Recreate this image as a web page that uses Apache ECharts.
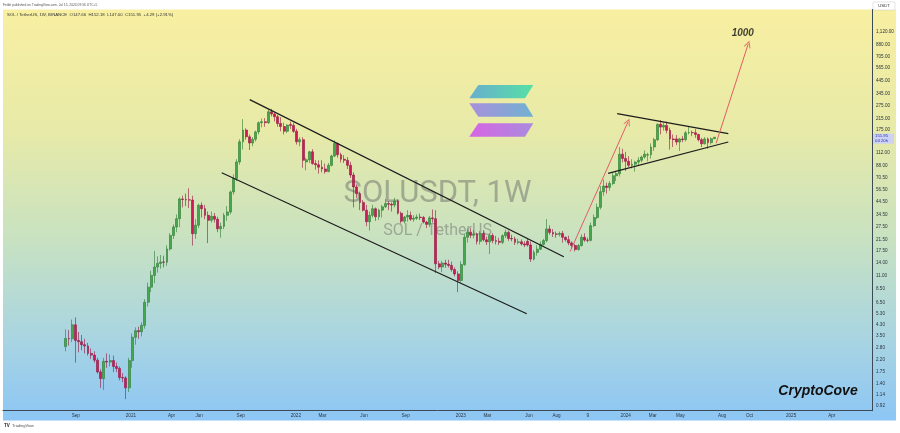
<!DOCTYPE html>
<html><head><meta charset="utf-8">
<script src="https://cdn.jsdelivr.net/npm/echarts@6/dist/echarts.min.js"></script>
<style>html,body{margin:0;padding:0;background:#fff}#c{width:900px;height:433px}</style>
</head><body><div id="c"></div>
<script>
// ---- data: weekly SOL/USDT candles (Binance, 1W), first week starts Monday 2020-08-10
const START_WEEK = '2020-08-10';
const opens = [
 2.85,3.32,3.30,4.30,3.20,3.12,2.95,2.88,2.50,2.42,2.20,1.76,1.55,2.15,2.12,2.18,1.95,1.88,1.58,1.57,1.30,
 2.18,3.40,3.85,3.78,4.25,6.60,8.80,11.0,12.9,13.8,14.2,14.1,18.2,23.5,27.6,32.3,47.0,46.5,46.2,46.0,24.3,28.5,41.6,39.1,34.4,31.3,33.8,32.0,26.7,27.9,34.4,36.7,53.7,69.2,95.0,139,174,153,136,146,168,200,204,200,246,236,224,197,186,170,193,190,
 170,139,145,95,99,115,92,90,86,83,79,89,106,135,109,100,98,89,74,59,52,44,38,30.5,34.4,39,33.5,38,40.5,43,42.5,41.8,45,35.8,30.8,33.3,34.4,32,32.5,33.3,33,30.3,29,32.8,32.3,13.7,12.9,13.9,13.6,13.3,12.3,11.3,
 10.0,13.5,22.7,25.0,23.6,24.2,21.0,24.4,21.6,20.8,23.5,21.3,21.0,20.6,23.4,24.9,22.2,22.0,20.6,20.8,20.0,21.0,19.6,15.0,17.0,18.1,19.8,21.3,26.6,24.9,24.2,24.0,24.4,22.7,21.7,20.4,19.4,18.0,19.4,22.7,21.5,21.4,28.3,33.0,40.1,54.0,60.0,58.5,63.0,73.0,76.0,110,
 101.5,96,89,91,94.6,98,104,108,109,126,145,194,184,190,173,147,147,138.5,147,145,165,166,165,160,145,134,147,137,147.66
];
const closes = [
 3.32,3.30,4.30,3.20,3.12,2.95,2.88,2.50,2.42,2.20,1.76,1.55,2.15,2.12,2.18,1.95,1.88,1.58,1.57,1.30,2.18,
 3.40,3.85,3.78,4.25,6.60,8.80,11.0,12.9,13.8,14.2,14.1,18.2,23.5,27.6,32.3,47.0,46.5,46.2,46.0,24.3,28.5,41.6,39.1,34.4,31.3,33.8,32.0,26.7,27.9,34.4,36.7,53.7,69.2,95.0,139,174,153,136,146,168,200,204,200,246,236,224,197,186,170,191,190,170,
 139,145,98,99,115,92,90,86,83,79,89,106,135,109,100,98,89,74,59,52,44,38,30.5,34.4,39,33.5,38,40.5,43,42.5,41.8,45,35.8,30.8,33.3,34.4,32,32.5,33.3,33,30.3,29,32.8,32.3,13.7,12.9,13.9,13.6,13.3,12.3,11.3,10.0,
 13.5,22.7,25.0,23.6,24.2,21.0,24.4,21.6,20.8,23.5,21.3,21.0,20.6,23.4,24.9,22.2,22.0,20.6,20.8,20.0,19.6,19.6,15.0,17.0,18.1,19.8,21.3,26.6,24.9,24.2,24.0,24.4,22.7,21.7,20.4,19.4,18.0,19.4,22.7,21.5,21.4,28.3,33.0,40.1,54.0,60.0,58.5,63.0,73.0,76.0,110,101.5,
 96,89,91,94.6,98,104,110,109,126,145,194,184,190,173,147,145,138.5,147,145,165,166,165,160,145,134,147,137,147.66,151.95
];
const lows = [
 2.60,2.90,3.10,2.10,2.55,2.65,2.50,2.40,2.25,2.10,1.70,1.30,1.25,1.90,1.95,1.75,1.75,1.50,1.45,1.05,1.20,
 1.90,2.95,3.30,3.45,4.00,6.10,8.00,9.50,11.6,12.5,12.8,13.2,17.6,22.0,25.0,27.5,40.0,41.0,39.5,19.4,22.0,27.0,33.0,32.0,20.3,30.0,30.0,25.0,22.5,26.5,31.0,35.0,51.0,66.0,90,120,145,119,128,140,160,183,185,195,225,205,185,170,160,164,178,165,
 132,128,85,81,93,90,82,76,78,76,78,87,104,103,94,93,83,70,40,48,38,37,28,25.8,33,31,31.5,33,39.5,38,37,40,35,29.5,29.5,30.5,31,30.5,31.5,31.5,29.5,27,27.5,30,11.5,12.4,11.7,12.7,12.8,11.8,10.8,8.0,
 9.6,13.2,20.5,22.3,22.2,19.8,19.8,21.0,19.6,16.5,20.3,19.8,19.6,19.9,22.3,21.2,21.0,19.6,19.8,19.4,18.8,19.0,14.2,14.6,16.0,17.8,19.4,20.6,23.8,22.8,22.5,23.0,20.5,20.9,19.5,18.5,17.3,17.6,19.0,20.8,20.6,21.0,27.5,32.0,38.5,50.0,52.0,55.0,61.0,66.0,72.0,94.0,
 80,86,84,79,90,94,101,96,101,117,141,160,172,163,120,126,131,117,138,140,160,155,150,140,126,132,122,132,147.00
];
const highs = [
 3.95,3.90,4.75,4.95,3.75,3.55,3.30,3.05,2.75,2.60,2.30,1.85,2.30,2.50,2.45,2.40,2.10,1.95,1.72,1.62,2.30,
 3.65,4.10,4.15,4.50,7.00,9.60,12.0,17.5,15.8,16.2,16.0,19.5,24.5,29.0,35.0,48.5,50.0,52.0,57.5,50.0,32.0,43.0,44.0,42.0,37.0,37.0,36.0,33.5,30.0,36.0,41.0,55.0,75.0,100,146,214,180,160,152,172,205,216,218,256,260,242,232,222,200,194,204,200,
 178,152,152,103,117,121,98,98,98,92,93,109,143,137,113,108,104,95,78,62,54,46,42,37,42,40,39,42,47,45,44,48,46.5,37,34,38,37,34.5,35,35.5,34,31,34,38.5,38,14.5,14.5,14.8,14.8,14.3,12.8,11.9,
 14.4,24.0,26.8,27.0,26.0,24.8,25.5,26.0,23.0,24.2,24.5,23.3,22.5,24.0,26.2,25.8,23.8,22.9,22.0,21.8,21.0,22.4,21.0,17.8,19.5,21.0,22.0,32.1,28.5,26.5,25.3,25.3,25.6,23.0,23.4,21.0,20.0,20.0,24.0,24.5,22.5,30.0,35.0,43.0,60.0,68.0,64.0,66.0,78.0,80.0,126,122,
 115,106,100,97,104,107,118,113,135,150,197,210,200,204,182,160,158,150,155,171,188,172,177,162,150,152,151,151,152.18
];
// right price axis tick labels (USDT, log scale)
const yTickValues = [0.92,1.14,1.40,1.75,2.20,2.80,3.50,4.30,5.30,6.50,8.50,11.00,14.00,17.50,21.50,27.50,34.50,44.50,56.50,70.50,88.00,112.00,175.00,215.00,275.00,345.00,445.00,565.00,705.00,880.00,1120.00];
// time axis tick labels
const xTickDates = ['2020-09-01','2021-01-01','2021-04-01','2021-06-01','2021-09-01','2022-01-01','2022-03-01','2022-06-01','2022-09-01','2023-01-01','2023-03-01','2023-06-01','2023-08-01','2023-10-09','2024-01-01','2024-03-01','2024-05-01','2024-08-01','2024-10-01','2025-01-01','2025-04-01'];
const xTickLabels = ['Sep','2021','Apr','Jun','Sep','2022','Mar','Jun','Sep','2023','Mar','Jun','Aug','9','2024','Mar','May','Aug','Oct','2025','Apr'];
// drawn annotations (date, price)
const channelUpper = [['2021-09-21',310],['2023-08-17',15.7]];
const channelLower = [['2021-07-21',77.4],['2023-05-27',5.31]];
const triangleUpper = [['2023-12-13',238],['2024-08-15',162.6]];
const triangleLower = [['2023-11-23',76.4],['2024-08-15',138.5]];
const arrowUp1 = [['2023-08-31',17.3],['2024-01-06',203]];
const arrowUp2 = [['2024-07-19',135.2],['2024-09-28',891]];
const targetLabel = ['2024-09-16',1099,'1000'];

// ---- build
const DAY = 86400000;
const t0 = Date.parse(START_WEEK);
const candles = opens.map((o,i)=>[t0 + i*7*DAY, o, closes[i], lows[i], highs[i]]);
const seg = p => p.map(q=>[Date.parse(q[0]), q[1]]);
const lastClose = closes[closes.length-1];
const xTickTs = xTickDates.map(d=>Date.parse(d));
const xLabelMap = {}; xTickTs.forEach((t,i)=>xLabelMap[t]=xTickLabels[i]);
const fmtPrice = v => Number(v).toLocaleString('en-US',{minimumFractionDigits:2,maximumFractionDigits:2});

const chart = echarts.init(document.getElementById('c'), null, {renderer:'canvas'});
const FONT = 'Liberation Sans, Arial, sans-serif';
const bgGrad = new echarts.graphic.LinearGradient(0,0,0,1,[
  {offset:0,color:'#f8efa1'},{offset:0.3,color:'#e7eaa8'},{offset:0.55,color:'#c9e2c0'},{offset:0.8,color:'#a9d5e2'},{offset:1,color:'#8dc6f5'}]);
function bar(pts, c1, c2){
  return {type:'polygon', silent:true, z:-5, shape:{points:pts},
    style:{opacity:0.9, fill:new echarts.graphic.LinearGradient(0,0,1,0,[{offset:0,color:c1},{offset:1,color:c2}])}};
}
const baseGraphics = [
    {type:'rect', silent:true, z:-10, shape:{x:3,y:9.5,width:893,height:411}, style:{fill:bgGrad}},
    {type:'text', silent:true, style:{x:3,y:5,text:'Fetbit published on TradingView.com, Jul 15, 2024 09:56 UTC+5',fontSize:3.3,fill:'#555',fontFamily:FONT,verticalAlign:'middle'}},
    {type:'text', silent:true, style:{x:7,y:15,text:'SOL / TetherUS, 1W, BINANCE  O147.66  H152.18  L147.00  C151.95  +4.29 (+2.91%)',fontSize:4.3,fill:'#333',fontFamily:FONT,verticalAlign:'middle'}},
    {type:'text', silent:true, z:-4, style:{x:437.5,y:194,text:'SOLUSDT, 1W',fontSize:31,fill:'rgba(105,110,105,0.5)',fontFamily:'Roboto, sans-serif',align:'center',verticalAlign:'middle'}},
    {type:'text', silent:true, z:-4, style:{x:437.5,y:231,text:'SOL / TetherUS',fontSize:16,fill:'rgba(105,110,105,0.5)',fontFamily:'Roboto, sans-serif',align:'center',verticalAlign:'middle'}},
    bar([[478.3,85],[533.3,85],[525,98.3],[469.3,98.3]],'#5aa8d2','#45dea6'),
    bar([[469.3,103.3],[525,103.3],[533.3,116.7],[478.3,116.7]],'#a285e2','#62acd6'),
    bar([[478.3,123.3],[533.3,123.3],[525,136.7],[469.3,136.7]],'#d555ea','#a282e4'),
    {type:'text', silent:true, style:{x:818,y:391,text:'CryptoCove',fontSize:14,fontWeight:'bold',fontStyle:'italic',fill:'#111',fontFamily:FONT,align:'center',verticalAlign:'middle'}},
    {type:'rect', silent:true, shape:{x:873,y:2,width:22,height:8}, style:{fill:'#fff',stroke:'#c8c8c8',lineWidth:0.5}},
    {type:'text', silent:true, style:{x:884,y:6,text:'USDT',fontSize:4.3,fill:'#333',fontFamily:FONT,align:'center',verticalAlign:'middle'}},
    {type:'text', silent:true, style:{x:4,y:426,text:'TV',fontSize:4.5,fontWeight:'bold',fill:'#131722',fontFamily:FONT,verticalAlign:'middle'}},
    {type:'text', silent:true, style:{x:12,y:426,text:'TradingView',fontSize:4,fill:'#555',fontFamily:FONT,verticalAlign:'middle'}}
];
const baseOption = {
  animation:false,
  backgroundColor:'#ffffff',
  grid:{left:3,right:28,top:9.5,bottom:22.3},
  xAxis:{type:'value', min:Date.parse('2020-03-24'), max:Date.parse('2025-06-29'), scale:true,
    axisLine:{show:true,lineStyle:{color:'#3c4a58',width:1}}, axisTick:{show:false}, splitLine:{show:false},
    axisLabel:{customValues:xTickTs, formatter:v=>xLabelMap[v]||'', fontSize:4.6, color:'#2a3440', margin:2.5, fontFamily:FONT}},
  yAxis:{type:'log', logBase:10, position:'right', min:0.842, max:1717,
    axisLine:{show:true,lineStyle:{color:'#3c4a58',width:1}}, axisTick:{show:false}, splitLine:{show:false},
    axisLabel:{customValues:yTickValues, formatter:v=>fmtPrice(v), fontSize:4.6, color:'#2a3440', margin:4, fontFamily:FONT}},
  graphic:baseGraphics,
  series:[
    {type:'candlestick', data:candles, barWidth:2.4, silent:true,
      itemStyle:{color:'#45a84f',color0:'#d0185a',borderColor:'#2b7a33',borderColor0:'#96133f',borderWidth:0.6}},
    {type:'lines', coordinateSystem:'cartesian2d', silent:true, z:5,
      data:[channelUpper,channelLower,triangleUpper,triangleLower].map(p=>({coords:seg(p)})),
      lineStyle:{color:'#1c1c1c',width:1.2,opacity:1}},
    {type:'lines', coordinateSystem:'cartesian2d', silent:true, z:5,
      symbol:['none','path://M0,10 L5,0 L10,10 L8.6,10 L5,2.8 L1.4,10 Z'], symbolSize:[6,7],
      data:[arrowUp1,arrowUp2].map(p=>({coords:seg(p)})),
      lineStyle:{color:'#e35d62',width:1,opacity:1}, itemStyle:{color:'#e35d62'}},
    {type:'scatter', silent:true, z:6, symbolSize:0,
      data:[[Date.parse(targetLabel[0]), targetLabel[1]]],
      label:{show:true,position:'inside',formatter:targetLabel[2],fontSize:10,fontWeight:'bold',fontStyle:'italic',color:'#111',fontFamily:FONT}}
  ]
};
chart.setOption(baseOption);
// current price tag on the price scale, positioned through the axis
const py = chart.convertToPixel({yAxisIndex:0}, lastClose);
const priceTag = {
  type:'group', silent:true, z:10, x:873, y:py,
  children:[
    {type:'rect', shape:{x:0,y:-3.5,width:21,height:10}, style:{fill:'#cdd1f5'}},
    {type:'text', style:{x:2,y:-1,text:fmtPrice(lastClose),fontSize:4.3,fill:'#2b3aa8',fontFamily:FONT,verticalAlign:'middle'}},
    {type:'text', style:{x:2,y:3.6,text:'04 20h',fontSize:4.3,fill:'#2b3aa8',fontFamily:FONT,verticalAlign:'middle'}}
  ]};
chart.setOption({graphic: baseGraphics.concat([priceTag])}, {replaceMerge:['graphic']});
</script></body></html>
